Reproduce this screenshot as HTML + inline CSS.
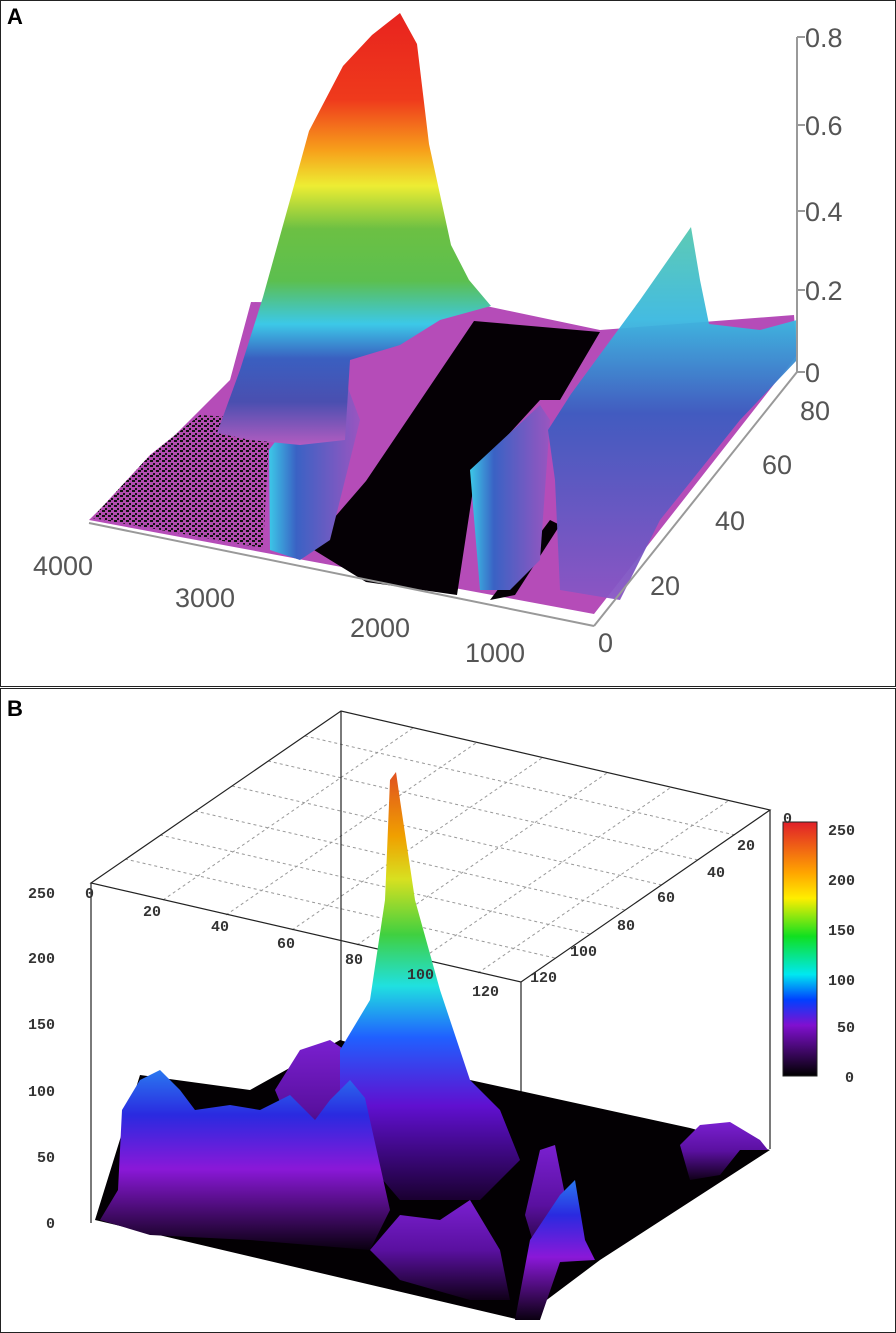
<!DOCTYPE html>
<html><head><meta charset="utf-8"><style>
html,body{margin:0;padding:0;background:#fff;width:896px;height:1333px;overflow:hidden}
svg{display:block}
</style></head><body>
<svg width="896" height="1333" viewBox="0 0 896 1333" xmlns="http://www.w3.org/2000/svg">
<defs>
<linearGradient id="rain" x1="0" y1="0" x2="0" y2="1">
<stop offset="0" stop-color="#e8231e"/><stop offset="0.2" stop-color="#ef3a1c"/>
<stop offset="0.32" stop-color="#f7a21b"/><stop offset="0.4" stop-color="#eded33"/>
<stop offset="0.5" stop-color="#6cc043"/><stop offset="0.62" stop-color="#5cbf4f"/>
<stop offset="0.72" stop-color="#3cc8e8"/><stop offset="0.8" stop-color="#3a5fc0"/>
<stop offset="0.9" stop-color="#4a4fb0"/><stop offset="1" stop-color="#b25cc0"/>
</linearGradient>
<linearGradient id="ridge" x1="0" y1="0" x2="1" y2="0">
<stop offset="0" stop-color="#3cc8e8"/><stop offset="0.3" stop-color="#3a62c4"/><stop offset="1" stop-color="#9a55c0"/>
</linearGradient>
<linearGradient id="peak2" x1="0" y1="0" x2="0" y2="1">
<stop offset="0" stop-color="#55c8b0"/><stop offset="0.25" stop-color="#3ab8e0"/><stop offset="0.5" stop-color="#3c5cc0"/><stop offset="1" stop-color="#8a55c4"/>
</linearGradient>
<pattern id="dots" width="6" height="5" patternUnits="userSpaceOnUse">
<rect width="6" height="5" fill="#b24cb0"/><rect x="0" y="0" width="3" height="2" fill="#111"/><rect x="3" y="3" width="2" height="2" fill="#111"/>
</pattern>
<linearGradient id="cbar" x1="0" y1="0" x2="0" y2="1">
<stop offset="0" stop-color="#e0202a"/><stop offset="0.2" stop-color="#ffa500"/><stop offset="0.3" stop-color="#ffee00"/>
<stop offset="0.45" stop-color="#10e020"/><stop offset="0.6" stop-color="#00e8f0"/><stop offset="0.7" stop-color="#0040ff"/>
<stop offset="0.8" stop-color="#8010d0"/><stop offset="1" stop-color="#000"/>
</linearGradient>
<linearGradient id="spire" x1="0" y1="0" x2="0" y2="1">
<stop offset="0" stop-color="#e05020"/><stop offset="0.15" stop-color="#f0a000"/><stop offset="0.25" stop-color="#d8e020"/>
<stop offset="0.38" stop-color="#40d040"/><stop offset="0.5" stop-color="#20e0e0"/><stop offset="0.62" stop-color="#2060ff"/>
<stop offset="0.78" stop-color="#6010d0"/><stop offset="1" stop-color="#1a0030"/>
</linearGradient>
<linearGradient id="mound" x1="0" y1="0" x2="0" y2="1">
<stop offset="0" stop-color="#2a78f0"/><stop offset="0.25" stop-color="#2a2ae0"/><stop offset="0.55" stop-color="#8a18d8"/><stop offset="1" stop-color="#0a0010"/>
</linearGradient>
<linearGradient id="mound2" x1="0" y1="0" x2="0" y2="1">
<stop offset="0" stop-color="#7a20d0"/><stop offset="0.5" stop-color="#5a10a0"/><stop offset="1" stop-color="#100018"/>
</linearGradient>
</defs>
<rect x="0.5" y="0.5" width="895" height="686" fill="#fff" stroke="#222"/>
<rect x="0.5" y="688.5" width="895" height="644" fill="#fff" stroke="#222"/>
<text x="7" y="24" font-family="Liberation Sans,sans-serif" font-weight="bold" font-size="22">A</text>
<text x="7" y="716" font-family="Liberation Sans,sans-serif" font-weight="bold" font-size="22">B</text>

<!-- Panel A -->
<polygon points="89,520 594,614 797,355 794,315 600,330 486,306 251,302 230,380 150,460" fill="#b54cb8"/>
<polygon points="92,518 263,548 270,420 200,415 150,455" fill="url(#dots)"/>
<polygon points="474,321 600,332 560,400 540,400 476,470 457,595 366,582 309,547 366,481" fill="#050005"/>
<polygon points="490,600 515,595 560,525 550,520" fill="#050005"/>
<polygon points="269,450 340,355 350,345 345,380 360,420 330,540 300,560 270,550" fill="url(#ridge)"/>
<polygon points="470,470 540,405 550,420 540,560 510,590 480,590" fill="url(#ridge)"/>
<polygon points="217,433 240,370 263,297 290,200 309,131 343,66 372,35 400,13 417,44 429,144 451,245 469,280 491,306 440,320 400,345 350,360 345,440 300,445 250,440" fill="url(#rain)"/>
<polygon points="548,430 571,394 640,300 691,227 700,280 709,324 760,330 797,320 797,360 740,420 660,520 620,600 560,590 555,480" fill="url(#peak2)" opacity="0.95"/>
<g stroke="#999" stroke-width="2" fill="none">
<line x1="797" y1="37" x2="797" y2="372"/><line x1="797" y1="372" x2="594" y2="626"/><line x1="89" y1="523" x2="594" y2="626"/>
<line x1="797" y1="37" x2="805" y2="37"/><line x1="797" y1="125" x2="805" y2="125"/><line x1="797" y1="211" x2="805" y2="211"/><line x1="797" y1="290" x2="805" y2="290"/><line x1="797" y1="372" x2="805" y2="372"/>
</g>
<g font-family="Liberation Sans,sans-serif" font-size="27" fill="#555">
<text x="805" y="47">0.8</text><text x="805" y="135">0.6</text><text x="805" y="221">0.4</text><text x="805" y="300">0.2</text><text x="805" y="382">0</text>
<text x="800" y="420">80</text><text x="762" y="474">60</text><text x="715" y="530">40</text><text x="650" y="595">20</text><text x="598" y="652">0</text>
<text x="33" y="575">4000</text><text x="175" y="607">3000</text><text x="350" y="637">2000</text><text x="465" y="662">1000</text>
</g>

<!-- Panel B -->
<g stroke="#999" stroke-dasharray="3,3" stroke-width="1" fill="none">
<line x1="125" y1="859" x2="555" y2="958"/><line x1="160" y1="835" x2="590" y2="934"/><line x1="195" y1="811" x2="625" y2="910"/>
<line x1="232" y1="786" x2="662" y2="885"/><line x1="268" y1="761" x2="698" y2="860"/><line x1="305" y1="736" x2="735" y2="835"/>
<line x1="163" y1="900" x2="413" y2="728"/><line x1="226" y1="915" x2="476" y2="743"/><line x1="292" y1="930" x2="542" y2="758"/>
<line x1="357" y1="945" x2="607" y2="773"/><line x1="420" y1="960" x2="670" y2="788"/><line x1="478" y1="973" x2="728" y2="801"/>
</g>
<g stroke="#222" stroke-width="1.2" fill="none">
<polygon points="91,883 341,711 770,810 521,982"/>
<line x1="91" y1="883" x2="91" y2="1223"/><line x1="521" y1="982" x2="521" y2="1317"/><line x1="341" y1="711" x2="341" y2="1046"/><line x1="770" y1="810" x2="770" y2="1149"/>
</g>
<polygon points="95,1220 520,1320 600,1260 770,1150 690,1128 470,1080 340,1040 250,1090 140,1075" fill="#030003"/>
<polygon points="680,1145 700,1125 730,1122 760,1140 768,1150 740,1150 720,1175 690,1180" fill="url(#mound2)"/>
<polygon points="275,1090 300,1050 330,1040 345,1050 380,1060 460,1080 480,1110 470,1150 400,1180 300,1150" fill="url(#mound2)"/>
<polygon points="390,780 396,772 400,800 415,900 440,990 470,1080 500,1110 520,1160 480,1200 400,1200 340,1130 340,1050 370,1000 385,900" fill="url(#spire)"/>
<polygon points="100,1220 118,1190 122,1110 140,1080 160,1070 180,1090 195,1110 230,1105 260,1110 290,1095 315,1120 330,1100 350,1080 365,1098 390,1210 370,1250 250,1240 150,1235" fill="url(#mound)"/>
<polygon points="370,1250 400,1215 440,1220 470,1200 500,1250 510,1300 470,1300 400,1280" fill="url(#mound2)"/>
<polygon points="525,1215 540,1150 555,1145 570,1220 585,1260 540,1265" fill="url(#mound2)"/>
<polygon points="515,1320 530,1240 560,1195 575,1180 585,1240 595,1260 560,1262 540,1320" fill="url(#mound)"/>
<rect x="783" y="822" width="34" height="254" fill="url(#cbar)" stroke="#222"/>
<g font-family="Liberation Mono,monospace" font-weight="bold" font-size="15" fill="#333">
<text x="28" y="898">250</text><text x="28" y="963">200</text><text x="28" y="1029">150</text><text x="28" y="1096">100</text><text x="37" y="1162">50</text><text x="46" y="1228">0</text>
<text x="85" y="898">0</text><text x="143" y="916">20</text><text x="211" y="931">40</text><text x="277" y="948">60</text><text x="345" y="964">80</text><text x="407" y="979">100</text><text x="472" y="996">120</text>
<text x="783" y="823">0</text><text x="737" y="850">20</text><text x="707" y="877">40</text><text x="657" y="902">60</text><text x="617" y="930">80</text><text x="570" y="956">100</text><text x="530" y="982">120</text>
<text x="828" y="835">250</text><text x="828" y="885">200</text><text x="828" y="935">150</text><text x="828" y="985">100</text><text x="837" y="1032">50</text><text x="845" y="1082">0</text>
</g>
</svg>
</body></html>
